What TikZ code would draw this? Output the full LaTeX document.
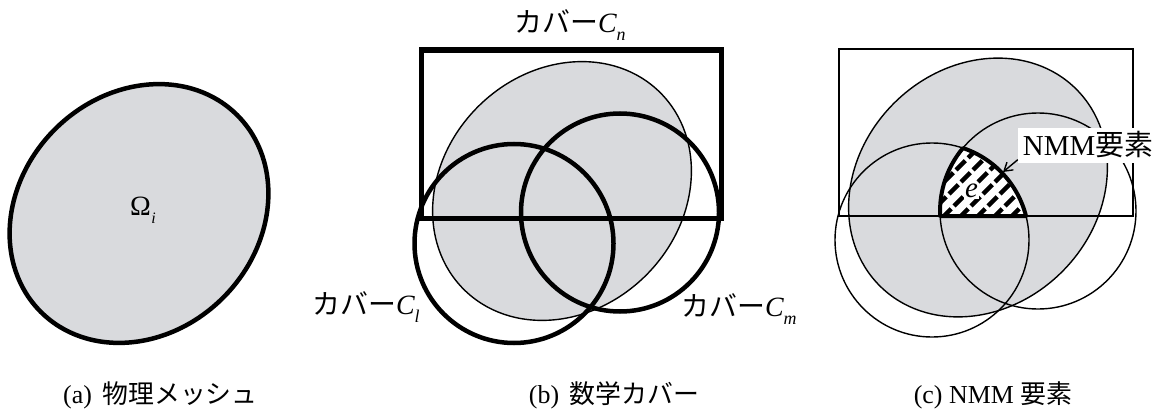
\documentclass[tikz,border=0pt]{standalone}
\usepackage{fontspec}
\setmainfont{Liberation Serif}
\newfontfamily\jp{Noto Sans CJK JP}
\usetikzlibrary{arrows.meta}
\definecolor{shadegray}{RGB}{217,218,221}
\newcommand\cov[1]{{\jp カバー}\textit{C}\kern-0.5bp\raisebox{-0.3em}{\fontsize{18}{18}\selectfont\textit{#1}}}
\begin{document}
\begin{tikzpicture}[x=1bp,y=1bp,
  meshfill/.style={fill=shadegray,draw=black},
  thickline/.style={line width=4.5bp},
  thinline/.style={line width=1.4bp},
  lbl/.style={font=\fontsize{28}{30}\selectfont, inner sep=0pt, anchor=base},
  captext/.style={font=\fontsize{26}{28}\selectfont, inner sep=0pt, anchor=base}]
\useasboundingbox (0,0) rectangle (1164,410);

% (a) physical mesh
\coordinate (ca) at (139,196.5);
\draw[meshfill, line width=4.5bp, rotate around={45:(ca)}] (ca) ellipse [x radius=139bp, y radius=119bp];
\node[font=\fontsize{28}{30}\selectfont, inner sep=0pt, anchor=base] (omega) at (143,195) {Ω\kern0.5bp\raisebox{-0.3em}{\fontsize{16}{16}\selectfont\itshape i}};

% (b) mathematical covers
\coordinate (cb) at (562,219);
\draw[meshfill, thinline, rotate around={45:(cb)}] (cb) ellipse [x radius=139bp, y radius=119bp];
\draw[line width=5bp, line join=miter] (421.5,192) rectangle (721.5,360);
\draw[thickline] (514,166.5) circle [radius=99.5bp];
\draw[thickline] (620,197.5) circle [radius=99bp];
\node[lbl] (cn) at (570,378) {\cov{n}};
\node[lbl] (cl) at (366,96) {\cov{l}};
\node[lbl] (cm) at (739,94) {\cov{m}};

% (c) NMM element
\coordinate (cc) at (978,222.5);
\draw[meshfill, thinline, rotate around={45:(cc)}] (cc) ellipse [x radius=139bp, y radius=119bp];
\draw[thinline] (839,194) rectangle (1133,361);
\draw[thinline] (932,170) circle [radius=97bp];
\draw[thinline] (1038,199) circle [radius=98bp];
\def\regionpath{(940.1,194) -- (1026,194) arc[start angle=14.33, end angle=71.4, radius=97bp] arc[start angle=140.0, end angle=182.92, radius=98bp] -- cycle}
\begin{scope}
  \clip \regionpath;
  \fill[white] (900,180) rectangle (1040,280);
  \foreach \x in {845,862,...,1050}
    \draw[line width=4.5bp, dash pattern=on 13bp off 4bp] (\x,180) -- ++(100,100);
\end{scope}
\node[fill=white, font=\fontsize{29}{30}\selectfont\itshape, inner sep=1.5bp] (e) at (971.5,219) {e};
\draw[line width=4bp, line join=round] \regionpath;
\node[fill=white, font=\fontsize{29}{30}\selectfont, inner xsep=5bp, minimum height=35bp] (nmm) at (1088,265) {NMM{\jp 要素}};
\coordinate (etip) at (1003,238);
\draw[thinline, -{Straight Barb[length=8bp,width=10bp]}] ([yshift=3bp]nmm.south west) -- (etip);

% captions
\node[captext] (capa) at (160.5,6.5) {(a)\hspace{0.4em}{\jp 物理メッシュ}};
\node[captext] (capb) at (614,6.5) {(b)\hspace{0.4em}{\jp 数学カバー}};
\node[captext] (capc) at (993,6.5) {(c) NMM {\jp 要素}};
\end{tikzpicture}
\end{document}
